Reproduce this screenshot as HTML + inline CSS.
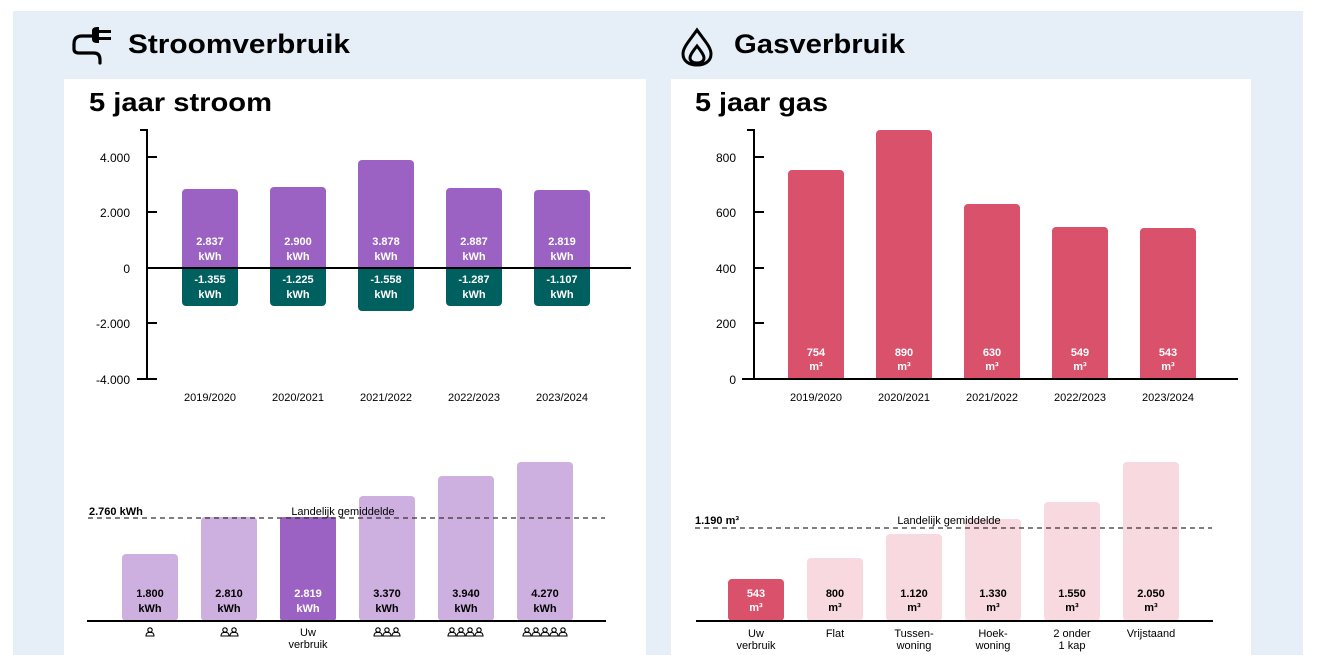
<!DOCTYPE html>
<html><head><meta charset="utf-8"><style>
html,body{margin:0;padding:0;background:#fff;}
svg{display:block;font-family:"Liberation Sans",Arial,sans-serif;}
</style></head><body>
<svg width="1317" height="655" viewBox="0 0 1317 655" xmlns="http://www.w3.org/2000/svg">
<defs>
<g id="p"><circle cx="0" cy="-4" r="2.2"/><path d="M-4 2 Q-4 -2 0 -1.5 Q4 -2 4 2 Z"/></g>
</defs>
<rect x="0" y="0" width="1317" height="655" fill="#fff"/>
<rect x="13" y="11" width="1290" height="644" fill="#e6eff8"/>
<rect x="64" y="79" width="582" height="576" fill="#fff"/>
<rect x="671" y="79" width="580" height="576" fill="#fff"/>

<!-- plug icon -->
<g fill="none" stroke="#000" stroke-width="3.2" stroke-linecap="round">
<path d="M92 36 H82 Q74 36 74 44 V49 Q74 53 79 53 H94 Q100 53 100 60 V63"/>
</g>
<path d="M92 31 q0 -4 5 -4 h2 v3 h12 v3 h-12 v4 h12 v3 h-12 v3 h-2 q-5 0 -5 -4 z" fill="#000"/>
<text x="128" y="53" font-size="27" font-weight="bold" fill="#000" textLength="222" lengthAdjust="spacingAndGlyphs">Stroomverbruik</text>
<!-- flame icon -->
<path d="M697 30 C690 40 683 47 683 54 C683 61 689 65 697 65 C705 65 711 61 711 54 C711 47 704 40 697 30 Z M697 46 C693 51 690 55 690 58 C690 61 693 63 697 63 C701 63 704 61 704 58 C704 55 701 51 697 46 Z" fill="none" stroke="#000" stroke-width="3"/>
<text x="734" y="53" font-size="27" font-weight="bold" fill="#000" textLength="171" lengthAdjust="spacingAndGlyphs">Gasverbruik</text>

<text x="89" y="111" font-size="26" font-weight="bold" fill="#000" textLength="183" lengthAdjust="spacingAndGlyphs">5 jaar stroom</text>
<text x="695" y="111" font-size="26" font-weight="bold" fill="#000" textLength="133" lengthAdjust="spacingAndGlyphs">5 jaar gas</text>

<!-- stroom 5-year chart -->
<g font-size="12" fill="#000" text-anchor="end">
<text x="130" y="162">4.000</text><text x="130" y="217">2.000</text><text x="130" y="273">0</text><text x="130" y="328">-2.000</text><text x="130" y="384">-4.000</text>
</g>
<g stroke="#000" stroke-width="2">
<line x1="147" y1="130" x2="147" y2="380"/><line x1="140" y1="130" x2="148" y2="130"/>
<line x1="147" y1="157" x2="157" y2="157"/><line x1="147" y1="212" x2="157" y2="212"/>
<line x1="147" y1="323" x2="157" y2="323"/><line x1="137" y1="379" x2="157" y2="379"/>
</g>
<g fill="#9b62c3">
<rect x="182" y="189" width="56" height="79" rx="4"/><rect x="182" y="258" width="56" height="10"/>
<rect x="270" y="187" width="56" height="81" rx="4"/><rect x="270" y="258" width="56" height="10"/>
<rect x="358" y="160" width="56" height="108" rx="4"/><rect x="358" y="258" width="56" height="10"/>
<rect x="446" y="188" width="56" height="80" rx="4"/><rect x="446" y="258" width="56" height="10"/>
<rect x="534" y="190" width="56" height="78" rx="4"/><rect x="534" y="258" width="56" height="10"/>
</g>
<g fill="#005f5f">
<rect x="182" y="268" width="56" height="38" rx="4"/><rect x="182" y="268" width="56" height="10"/>
<rect x="270" y="268" width="56" height="38" rx="4"/><rect x="270" y="268" width="56" height="10"/>
<rect x="358" y="268" width="56" height="43" rx="4"/><rect x="358" y="268" width="56" height="10"/>
<rect x="446" y="268" width="56" height="38" rx="4"/><rect x="446" y="268" width="56" height="10"/>
<rect x="534" y="268" width="56" height="38" rx="4"/><rect x="534" y="268" width="56" height="10"/>
</g>
<line x1="147" y1="268" x2="631" y2="268" stroke="#000" stroke-width="2"/>
<g font-size="11" font-weight="bold" fill="#fff" text-anchor="middle">
<text x="210" y="245">2.837</text><text x="210" y="260">kWh</text>
<text x="298" y="245">2.900</text><text x="298" y="260">kWh</text>
<text x="386" y="245">3.878</text><text x="386" y="260">kWh</text>
<text x="474" y="245">2.887</text><text x="474" y="260">kWh</text>
<text x="562" y="245">2.819</text><text x="562" y="260">kWh</text>
<text x="210" y="283">-1.355</text><text x="210" y="298">kWh</text>
<text x="298" y="283">-1.225</text><text x="298" y="298">kWh</text>
<text x="386" y="283">-1.558</text><text x="386" y="298">kWh</text>
<text x="474" y="283">-1.287</text><text x="474" y="298">kWh</text>
<text x="562" y="283">-1.107</text><text x="562" y="298">kWh</text>
</g>
<g font-size="11" fill="#000" text-anchor="middle">
<text x="210" y="401">2019/2020</text><text x="298" y="401">2020/2021</text><text x="386" y="401">2021/2022</text><text x="474" y="401">2022/2023</text><text x="562" y="401">2023/2024</text>
</g>

<!-- gas 5-year chart -->
<g font-size="12" fill="#000" text-anchor="end">
<text x="736" y="162">800</text><text x="736" y="217">600</text><text x="736" y="273">400</text><text x="736" y="328">200</text><text x="736" y="384">0</text>
</g>
<g stroke="#000" stroke-width="2">
<line x1="754" y1="130" x2="754" y2="380"/><line x1="747" y1="130" x2="755" y2="130"/>
<line x1="754" y1="157" x2="764" y2="157"/><line x1="754" y1="212" x2="764" y2="212"/>
<line x1="754" y1="268" x2="764" y2="268"/><line x1="754" y1="323" x2="764" y2="323"/>
</g>
<g fill="#d9516a">
<rect x="788" y="170" width="56" height="209" rx="4"/><rect x="788" y="370" width="56" height="9"/>
<rect x="876" y="130" width="56" height="249" rx="4"/><rect x="876" y="370" width="56" height="9"/>
<rect x="964" y="204" width="56" height="175" rx="4"/><rect x="964" y="370" width="56" height="9"/>
<rect x="1052" y="227" width="56" height="152" rx="4"/><rect x="1052" y="370" width="56" height="9"/>
<rect x="1140" y="228" width="56" height="151" rx="4"/><rect x="1140" y="370" width="56" height="9"/>
</g>
<line x1="742" y1="379" x2="1238" y2="379" stroke="#000" stroke-width="2"/>
<g font-size="11" font-weight="bold" fill="#fff" text-anchor="middle">
<text x="816" y="356">754</text><text x="816" y="370">m³</text>
<text x="904" y="356">890</text><text x="904" y="370">m³</text>
<text x="992" y="356">630</text><text x="992" y="370">m³</text>
<text x="1080" y="356">549</text><text x="1080" y="370">m³</text>
<text x="1168" y="356">543</text><text x="1168" y="370">m³</text>
</g>
<g font-size="11" fill="#000" text-anchor="middle">
<text x="816" y="401">2019/2020</text><text x="904" y="401">2020/2021</text><text x="992" y="401">2021/2022</text><text x="1080" y="401">2022/2023</text><text x="1168" y="401">2023/2024</text>
</g>

<!-- stroom comparison -->
<g fill="#cdb0e0">
<rect x="122" y="554" width="56" height="67" rx="4"/>
<rect x="201" y="517" width="56" height="104" rx="4"/>
<rect x="359" y="496" width="56" height="125" rx="4"/>
<rect x="438" y="476" width="56" height="145" rx="4"/>
<rect x="517" y="462" width="56" height="159" rx="4"/>
</g>
<rect x="280" y="517" width="56" height="104" rx="3" fill="#9b62c3"/>
<line x1="88" y1="518" x2="605" y2="518" stroke="#333" stroke-width="1.2" stroke-dasharray="5,4"/>
<text x="89" y="515" font-size="11" font-weight="bold" fill="#000">2.760 kWh</text>
<text x="343" y="515" font-size="11" fill="#000" text-anchor="middle">Landelijk gemiddelde</text>
<line x1="87" y1="621" x2="606" y2="621" stroke="#000" stroke-width="2"/>
<g font-size="11" font-weight="bold" text-anchor="middle" fill="#000">
<text x="150" y="597">1.800</text><text x="150" y="612">kWh</text>
<text x="229" y="597">2.810</text><text x="229" y="612">kWh</text>
<text x="308" y="597" fill="#fff">2.819</text><text x="308" y="612" fill="#fff">kWh</text>
<text x="387" y="597">3.370</text><text x="387" y="612">kWh</text>
<text x="466" y="597">3.940</text><text x="466" y="612">kWh</text>
<text x="545" y="597">4.270</text><text x="545" y="612">kWh</text>
</g>
<g font-size="11" text-anchor="middle" fill="#000">
<text x="308" y="636">Uw</text><text x="308" y="648">verbruik</text>
</g>
<g fill="none" stroke="#000" stroke-width="1.1">
<use href="#p" x="150" y="634"/>
<use href="#p" x="225" y="634"/><use href="#p" x="234" y="634"/>
<use href="#p" x="378" y="634"/><use href="#p" x="387" y="634"/><use href="#p" x="396" y="634"/>
<use href="#p" x="452" y="634"/><use href="#p" x="461" y="634"/><use href="#p" x="470" y="634"/><use href="#p" x="479" y="634"/>
<use href="#p" x="527" y="634"/><use href="#p" x="536" y="634"/><use href="#p" x="545" y="634"/><use href="#p" x="554" y="634"/><use href="#p" x="563" y="634"/>
</g>

<!-- gas comparison -->
<g fill="#f7d9df">
<rect x="807" y="558" width="56" height="63" rx="4"/>
<rect x="886" y="534" width="56" height="87" rx="4"/>
<rect x="965" y="519" width="56" height="102" rx="4"/>
<rect x="1044" y="502" width="56" height="119" rx="4"/>
<rect x="1123" y="462" width="56" height="159" rx="4"/>
</g>
<rect x="728" y="579" width="56" height="42" rx="4" fill="#d9516a"/>
<line x1="695" y1="528" x2="1212" y2="528" stroke="#333" stroke-width="1.2" stroke-dasharray="5,4"/>
<text x="695" y="524" font-size="11" font-weight="bold" fill="#000">1.190 m³</text>
<text x="949" y="524" font-size="11" fill="#000" text-anchor="middle">Landelijk gemiddelde</text>
<line x1="696" y1="621" x2="1213" y2="621" stroke="#000" stroke-width="2"/>
<g font-size="11" font-weight="bold" text-anchor="middle" fill="#000">
<text x="756" y="597" fill="#fff">543</text><text x="756" y="611" fill="#fff">m³</text>
<text x="835" y="597">800</text><text x="835" y="611">m³</text>
<text x="914" y="597">1.120</text><text x="914" y="611">m³</text>
<text x="993" y="597">1.330</text><text x="993" y="611">m³</text>
<text x="1072" y="597">1.550</text><text x="1072" y="611">m³</text>
<text x="1151" y="597">2.050</text><text x="1151" y="611">m³</text>
</g>
<g font-size="11" text-anchor="middle" fill="#000">
<text x="756" y="637">Uw</text><text x="756" y="649">verbruik</text>
<text x="835" y="637">Flat</text>
<text x="914" y="637">Tussen-</text><text x="914" y="649">woning</text>
<text x="993" y="637">Hoek-</text><text x="993" y="649">woning</text>
<text x="1072" y="637">2 onder</text><text x="1072" y="649">1 kap</text>
<text x="1151" y="637">Vrijstaand</text>
</g>
</svg>
</body></html>
